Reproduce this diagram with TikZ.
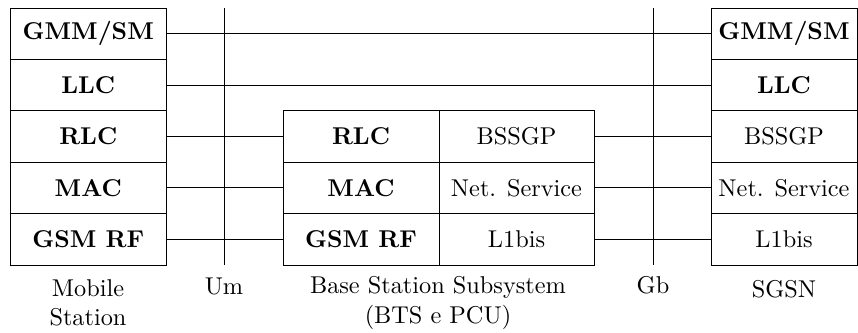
\documentclass[tikz,border=0pt]{standalone}
\begin{document}
\begin{tikzpicture}[x=0.4115pt,y=-0.4115pt,
  cell/.style={draw,rectangle,minimum height=51.4*0.4115pt,inner sep=0pt,font=\bfseries},
  ncell/.style={cell,font=\normalfont},
  lcell/.style={cell,minimum width=155.5*0.4115pt},
  bcell/.style={cell,minimum width=156*0.4115pt},
  bncell/.style={ncell,minimum width=155*0.4115pt},
  rcell/.style={cell,minimum width=146*0.4115pt},
  rncell/.style={ncell,minimum width=146*0.4115pt},
  lbl/.style={align=center,inner sep=0pt}]
\useasboundingbox (0,0) rectangle (858,332);
% Mobile station
\node[lcell] (mgmm) at (88.25,33.7) {GMM/SM};
\node[lcell] (mllc) at (88.25,85.1) {LLC};
\node[lcell] (mrlc) at (88.25,136.5) {RLC};
\node[lcell] (mmac) at (88.25,187.9) {MAC};
\node[lcell] (mrf)  at (88.25,239.3) {GSM RF};
% BSS
\node[bcell] (brlc) at (361,136.5) {RLC};
\node[bcell] (bmac) at (361,187.9) {MAC};
\node[bcell] (brf)  at (361,239.3) {GSM RF};
\node[bncell] (bbss) at (516.5,136.5) {BSSGP};
\node[bncell] (bns)  at (516.5,187.9) {Net. Service};
\node[bncell] (bl1)  at (516.5,239.3) {L1bis};
% SGSN
\node[rcell] (sgmm) at (784,33.7) {GMM/SM};
\node[rcell] (sllc) at (784,85.1) {LLC};
\node[rncell] (sbss) at (784,136.5) {BSSGP};
\node[rncell] (sns)  at (784,187.9) {Net. Service};
\node[rncell] (sl1)  at (784,239.3) {L1bis};
% interfaces
\coordinate (umt) at (224,8);
\coordinate (umb) at (224,265);
\coordinate (gbt) at (653,8);
\coordinate (gbb) at (653,265);
\draw (umt) -- (umb);
\draw (gbt) -- (gbb);
% connectors
\draw (mgmm) -- (sgmm);
\draw (mllc) -- (sllc);
\draw (mrlc) -- (brlc);
\draw (mmac) -- (bmac);
\draw (mrf) -- (brf);
\draw (bbss) -- (sbss);
\draw (bns) -- (sns);
\draw (bl1) -- (sl1);
% labels
\node[lbl] (lms) at (88,303) {Mobile\\Station};
\node[lbl] (lum) at (224,286) {Um};
\node[lbl] (lgb) at (653,285) {Gb};
\node[lbl] (lbss) at (438,303) {Base Station Subsystem\\(BTS e PCU)};
\node[lbl] (lsg) at (784,289) {SGSN};
\end{tikzpicture}
\end{document}
